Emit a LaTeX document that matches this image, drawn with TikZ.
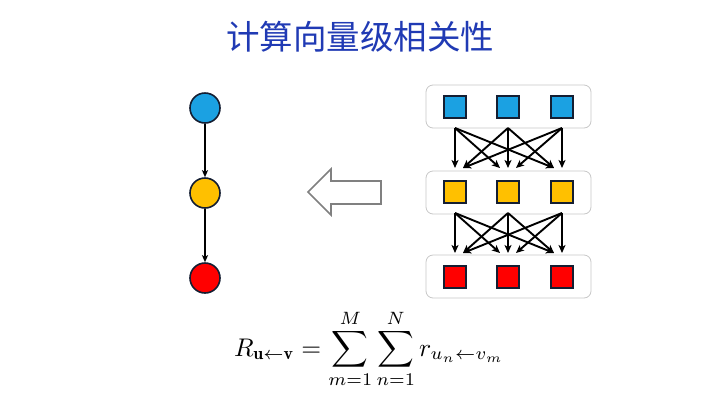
\documentclass[tikz,border=0pt]{standalone}
\usepackage{fontspec}
\usepackage{amsmath}
\usetikzlibrary{arrows.meta}
\newfontfamily\cjk{Noto Sans CJK SC}
\definecolor{cblue}{RGB}{27,161,226}
\definecolor{cyellow}{RGB}{255,192,0}
\definecolor{cred}{RGB}{255,0,0}
\definecolor{ctitle}{RGB}{32,58,180}
\definecolor{cbox}{RGB}{200,200,200}
\definecolor{cout}{RGB}{20,30,50}
\begin{document}
\begin{tikzpicture}[x=1pt,y=-1pt,
  dot/.style={circle,draw=cout,line width=1.6pt,minimum size=30pt,inner sep=0pt},
  sq/.style={rectangle,draw=cout,line width=1.6pt,minimum size=22pt,inner sep=0pt},
  layerbox/.style={rectangle,rounded corners=7pt,draw=cbox,line width=0.8pt,minimum width=165pt,minimum height=43pt},
  link/.style={-{Stealth[length=8pt,width=7pt,inset=2pt]},line width=1.9pt,black},
  vlink/.style={-{Stealth[length=7pt,width=6pt,inset=1.5pt]},line width=1.4pt,black},
  hollow/.style={draw=gray,line width=1.6pt,fill=white,line join=miter}]
\useasboundingbox (0,0) rectangle (720,405);
\fill[white] (0,0) rectangle (720,405);
% title
\node[text=ctitle,font=\cjk\fontsize{33.5}{40}\selectfont] (title) at (360,37) {计算向量级相关性};
% left chain
\node[dot,fill=cblue] (c1) at (205,108) {};
\node[dot,fill=cyellow] (c2) at (205,193) {};
\node[dot,fill=cred] (c3) at (205,278) {};
\draw[vlink] (c1) -- (c2);
\draw[vlink] (c2) -- (c3);
% hollow arrow
\draw[hollow] (308,192) -- (331,169) -- (331,181) -- (381,181) -- (381,204) -- (331,204) -- (331,215) -- cycle;
% layer boxes
\node[layerbox] (b1) at (508.5,106.5) {};
\node[layerbox] (b2) at (508.5,192.5) {};
\node[layerbox] (b3) at (508.5,276.5) {};
\foreach \i/\x in {1/455,2/508,3/562}{
  \node[sq,fill=cblue] (s1\i) at (\x,107) {};
  \node[sq,fill=cyellow] (s2\i) at (\x,192) {};
  \node[sq,fill=cred] (s3\i) at (\x,277) {};
  \coordinate (t1\i) at (\x,128);
  \coordinate (t2\i) at (\x,213);
}
% connections
\foreach \r/\bot in {1/168,2/253}{
  \foreach \i/\sx in {1/455,2/508,3/562}{
    \foreach \j/\tx in {1/455,2/508,3/562}{
      \pgfmathsetmacro{\off}{\sx>\tx ? 8 : (\sx<\tx ? -8 : 0)}
      \coordinate (e\r\i\j) at (\tx+\off,\bot);
      \draw[link] (t\r\i) -- (e\r\i\j);
    }
  }
}
% formula
\node[scale=2.55] (formula) at (369,349) {$\displaystyle R_{\mathbf{u}\leftarrow\mathbf{v}}=\sum_{m=1}^{M}\sum_{n=1}^{N}r_{u_n\leftarrow v_m}$};
\end{tikzpicture}
\end{document}
